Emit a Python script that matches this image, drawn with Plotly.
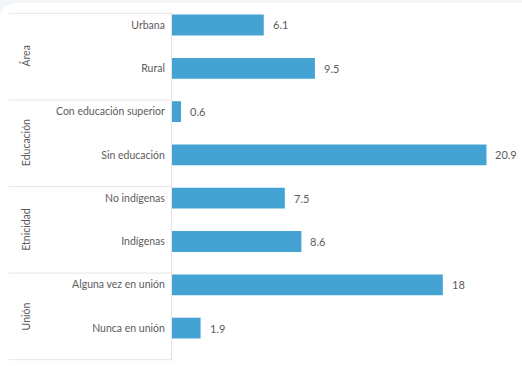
import plotly.graph_objects as go

# Categories (top to bottom), their groups and values
categories = [
    "Urbana", "Rural",
    "Con educación superior", "Sin educación",
    "No indígenas", "Indígenas",
    "Alguna vez en unión", "Nunca en unión",
]
values = [6.1, 9.5, 0.6, 20.9, 7.5, 8.6, 18, 1.9]
groups = ["Área", "Educación", "Etnicidad", "Unión"]

W, H = 522, 366
ML, MR, MT, MB = 172, 19, 12, 5
PW, PH = W - ML - MR, H - MT - MB

BAR = "#45a3d4"
TXT = "#5c5c5c"
FONT = "Lato"


def px_to_paper_x(px):
    return (px - ML) / PW


def py_to_paper_y(py):
    return 1 - (py - MT) / PH


fig = go.Figure(
    go.Bar(
        x=values,
        y=categories,
        orientation="h",
        marker=dict(color=BAR, line=dict(width=0)),
        width=0.48,
        hoverinfo="skip",
    )
)

annotations = []
# value labels just past each bar end
for cat, v in zip(categories, values):
    annotations.append(dict(
        x=v, y=cat, xref="x", yref="y", text=f"{v:g}",
        showarrow=False, xanchor="left", xshift=7,
        font=dict(family=FONT, size=11, color=TXT),
    ))

shapes = []
# white card with rounded corner over a pale frame
x0, x1 = px_to_paper_x(0), px_to_paper_x(W + 20)
y0, y1 = py_to_paper_y(H + 20), py_to_paper_y(3)
r = 18
rx, ry = r / PW, r / PH
shapes.append(dict(
    type="path", xref="paper", yref="paper", layer="below",
    path=(f"M {x0+rx},{y1} L {x1},{y1} L {x1},{y0} L {x0},{y0} "
          f"L {x0},{y1-ry} Q {x0},{y1} {x0+rx},{y1} Z"),
    fillcolor="white", line=dict(width=0),
))

# group separators and rotated group titles
offset = -0.27
for k, g in enumerate(groups):
    yline = 2 * k + offset
    shapes.append(dict(
        type="line", xref="paper", yref="y",
        x0=px_to_paper_x(9), x1=0, y0=yline, y1=yline,
        line=dict(color="#e6e6e6", width=1),
    ))
    annotations.append(dict(
        x=px_to_paper_x(26), y=yline + 1, xref="paper", yref="y",
        text=g, textangle=-90, showarrow=False,
        xanchor="center", yanchor="middle",
        font=dict(family=FONT, size=10.5, color=TXT),
    ))
shapes.append(dict(
    type="line", xref="paper", yref="y",
    x0=px_to_paper_x(9), x1=0, y0=2 * len(groups) + offset, y1=2 * len(groups) + offset,
    line=dict(color="#e6e6e6", width=1),
))

fig.update_layout(
    width=W, height=H,
    margin=dict(l=ML, r=MR, t=MT, b=MB, pad=0),
    paper_bgcolor="#f2f6f9",
    plot_bgcolor="rgba(0,0,0,0)",
    showlegend=False,
    shapes=shapes,
    annotations=annotations,
    xaxis=dict(range=[0, 22], visible=False, fixedrange=True),
    yaxis=dict(
        type="category",
        categoryorder="array", categoryarray=categories,
        range=[2 * len(groups) + offset + 0.03, -0.3],
        showgrid=False, zeroline=False,
        showline=True, linecolor="#e4e4e4", linewidth=1,
        ticks="", ticklabelstandoff=4,
        tickfont=dict(family=FONT, size=10.5, color=TXT),
        fixedrange=True,
    ),
)

fig.write_html("out.html", config={"displayModeBar": False})
